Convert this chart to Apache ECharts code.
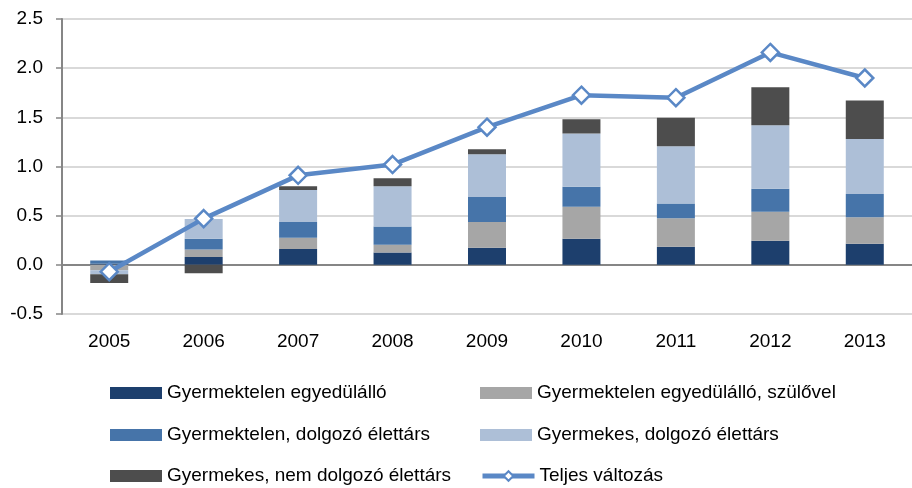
<!DOCTYPE html>
<html>
<head>
<meta charset="utf-8">
<script src="https://cdn.jsdelivr.net/npm/echarts@6/dist/echarts.min.js"></script>
<style>
    html, body { margin: 0; padding: 0; background: #fff; }
    #chart { width: 912px; height: 488px; }
</style>
</head>
<body>
<div id="chart"></div>
<script>
    // adatok
    var years = ['2005', '2006', '2007', '2008', '2009', '2010', '2011', '2012', '2013'];
    var yTicks = [-0.5, 0.0, 0.5, 1.0, 1.5, 2.0, 2.5];

    var names = [
        'Gyermektelen egyedülálló',
        'Gyermektelen egyedülálló, szülővel',
        'Gyermektelen, dolgozó élettárs',
        'Gyermekes, dolgozó élettárs',
        'Gyermekes, nem dolgozó élettárs',
        'Teljes változás'
    ];

    var egyedulallo = [0.01, 0.08, 0.16, 0.125, 0.175, 0.265, 0.185, 0.245, 0.215];
    var szulovel = [-0.055, 0.075, 0.115, 0.08, 0.26, 0.325, 0.29, 0.295, 0.27];
    var gyermektelenDolgozo = [0.035, 0.11, 0.16, 0.185, 0.255, 0.205, 0.15, 0.235, 0.235];
    var gyermekesDolgozo = [-0.04, 0.20, 0.325, 0.41, 0.435, 0.54, 0.58, 0.645, 0.56];
    var gyermekesNemDolgozo = [-0.09, -0.085, 0.04, 0.08, 0.05, 0.145, 0.29, 0.385, 0.39];
    var teljes = [-0.07, 0.47, 0.91, 1.02, 1.40, 1.725, 1.70, 2.16, 1.90];

    var colors = ['#1d3f6d', '#a6a6a6', '#4674a9', '#adbfd7', '#4d4d4d', '#5a88c6'];
    var font = 'Liberation Sans';

    function legendItem(idx, left, top) {
        var lg = {
            data: [names[idx]],
            left: left,
            top: top,
            padding: 0,
            itemWidth: 52,
            itemHeight: 12,
            textStyle: { fontFamily: font, fontSize: 19, color: '#000', lineHeight: 20 }
        };
        if (idx < 5) {
            lg.icon = 'rect';
        } else {
            lg.lineStyle = { width: 5, color: colors[5] };
            lg.itemStyle = { color: '#fff', borderColor: colors[5], borderWidth: 2 };
        }
        return lg;
    }

    var barData = [egyedulallo, szulovel, gyermektelenDolgozo, gyermekesDolgozo, gyermekesNemDolgozo];
    var series = [];
    for (var i = 0; i < barData.length; i++) {
        series.push({
            name: names[i],
            type: 'bar',
            stack: 'total',
            barWidth: 38,
            itemStyle: { color: colors[i] },
            data: barData[i]
        });
    }
    series.push({
        name: names[5],
        type: 'line',
        data: teljes,
        symbol: 'diamond',
        symbolSize: 17,
        lineStyle: { color: colors[5], width: 4.5 },
        itemStyle: { color: '#fff', borderColor: colors[5], borderWidth: 2.5 },
        z: 5
    });

    var option = {
        animation: false,
        legend: [
            legendItem(0, 110, 383),
            legendItem(1, 480, 383),
            legendItem(2, 110, 425),
            legendItem(3, 480, 425),
            legendItem(4, 110, 466),
            legendItem(5, 480, 466)
        ],
        grid: { left: 62, top: 19, width: 860, height: 295 },
        xAxis: [{
            type: 'category',
            data: years,
            axisLine: { show: false, onZero: false },
            axisTick: { show: false },
            axisLabel: { fontFamily: font, fontSize: 19, color: '#000', margin: 18 }
        }, {
            type: 'category',
            data: years,
            position: 'top',
            axisLine: { show: true, onZero: true, lineStyle: { color: '#868686', width: 2 } },
            axisTick: { show: false },
            axisLabel: { show: false }
        }],
        yAxis: {
            type: 'value',
            min: yTicks[0],
            max: yTicks[yTicks.length - 1],
            interval: 0.5,
            axisLine: { show: true, lineStyle: { color: '#868686', width: 2 } },
            axisTick: { show: true, length: 6, lineStyle: { color: '#868686', width: 1.5 } },
            axisLabel: {
                fontFamily: font, fontSize: 19, color: '#000', margin: 19,
                formatter: function (v) { return v.toFixed(1); }
            },
            splitLine: { lineStyle: { color: '#d9d9d9', width: 2 } }
        },
        series: series
    };

    var myChart = echarts.init(document.getElementById('chart'));
    myChart.setOption(option, true);
</script>
</body>
</html>
